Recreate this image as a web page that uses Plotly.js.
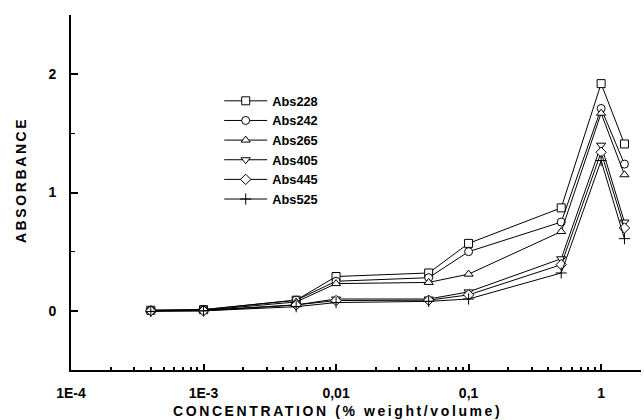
<!DOCTYPE html>
<html>
<head>
<meta charset="utf-8">
<script src="https://cdn.plot.ly/plotly-3.0.1.min.js"></script>
<style>
  html, body { margin: 0; padding: 0; background: #fff; }
  #chart { width: 644px; height: 420px; }
  .annotation-text { letter-spacing: 2.6px; }
</style>
</head>
<body>
<div id="chart"></div>
<script>
// Concentration (% weight/volume)
const concentration = [0.0004, 0.001, 0.005, 0.01, 0.05, 0.1, 0.5, 1, 1.5];

// Absorbance at each wavelength
const abs228 = [0.005, 0.01, 0.09, 0.29, 0.32, 0.57, 0.87, 1.92, 1.41];
const abs242 = [0.005, 0.01, 0.09, 0.25, 0.28, 0.50, 0.75, 1.71, 1.24];
const abs265 = [0.003, 0.005, 0.075, 0.23, 0.24, 0.31, 0.67, 1.67, 1.15];
const abs405 = [0.0, 0.005, 0.05, 0.10, 0.10, 0.16, 0.44, 1.40, 0.75];
const abs445 = [0.0, 0.0, 0.05, 0.087, 0.09, 0.135, 0.39, 1.34, 0.70];
const abs525 = [-0.005, 0.0, 0.035, 0.07, 0.08, 0.10, 0.32, 1.27, 0.61];

const seriesNames = ['Abs228', 'Abs242', 'Abs265', 'Abs405', 'Abs445', 'Abs525'];
const seriesValues = [abs228, abs242, abs265, abs405, abs445, abs525];
const seriesSymbols = ['square', 'circle', 'triangle-up', 'triangle-down', 'diamond', 'cross-thin'];

// Axis ticks
const xTickVals = [1e-4, 1e-3, 0.01, 0.1, 1];
const xTickText = ['1E-4', '1E-3', '0,01', '0,1', '1'];
const yTickVals = [0, 1, 2];
const yTickText = ['0', '1', '2'];

const xMinorVals = [];
for (let e = -4; e <= 0; e++) {
  for (let m = 2; m <= 9; m++) xMinorVals.push(m * Math.pow(10, e));
}

const traces = seriesNames.map((name, i) => ({
  type: 'scatter',
  mode: 'lines+markers',
  name: name,
  x: concentration,
  y: seriesValues[i],
  line: { color: '#000', width: 1 },
  marker: {
    symbol: seriesSymbols[i],
    size: 8,
    color: seriesSymbols[i] === 'cross-thin' ? '#000' : '#fff',
    line: { color: '#000', width: 1 }
  }
}));

const font = { family: '"Liberation Sans", Arial, sans-serif', color: '#000' };

const layout = {
  width: 644,
  height: 420,
  margin: { l: 71, r: 3, t: 15, b: 50 },
  paper_bgcolor: '#fff',
  plot_bgcolor: '#fff',
  showlegend: true,
  legend: {
    x: 0.260, y: 0.80, xanchor: 'left', yanchor: 'top',
    bgcolor: 'rgba(0,0,0,0)',
    itemwidth: 43,
    font: Object.assign({ size: 12.8, weight: 'bold' }, font),
    tracegroupgap: 0
  },
  xaxis: {
    type: 'log',
    range: [-4, Math.log10(2)],
    showgrid: false,
    zeroline: false,
    showline: true,
    linecolor: '#000',
    linewidth: 2,
    mirror: false,
    ticks: 'inside',
    ticklen: 6,
    tickwidth: 2,
    tickcolor: '#000',
    tickmode: 'array',
    tickvals: xTickVals,
    ticktext: xTickText,
    ticklabelstandoff: 9,
    tickfont: Object.assign({ size: 14, weight: 'bold' }, font),
    minor: {
      tickmode: 'array',
      tickvals: xMinorVals,
      ticks: 'inside',
      ticklen: 3,
      tickwidth: 2,
      tickcolor: '#000',
      showgrid: false
    }
  },
  yaxis: {
    range: [-0.5, 2.5],
    showgrid: false,
    zeroline: false,
    showline: true,
    linecolor: '#000',
    linewidth: 2,
    ticks: 'inside',
    ticklen: 7,
    tickwidth: 2,
    tickcolor: '#000',
    tickmode: 'array',
    tickvals: yTickVals,
    ticktext: yTickText,
    ticklabelstandoff: 10,
    tickfont: Object.assign({ size: 14, weight: 'bold' }, font),
    minor: {
      tick0: 0,
      dtick: 0.5,
      ticks: 'inside',
      ticklen: 4,
      tickwidth: 1.5,
      tickcolor: '#000',
      showgrid: false
    }
  },
  annotations: [
    {
      text: 'CONCENTRATION (% weight/volume)',
      xref: 'paper', yref: 'paper',
      x: 0.468, y: -0.116,
      xanchor: 'center', yanchor: 'middle',
      showarrow: false,
      font: Object.assign({ size: 14, weight: 'bold' }, font)
    },
    {
      text: 'ABSORBANCE',
      xref: 'paper', yref: 'paper',
      x: -0.0877, y: 0.535,
      xanchor: 'center', yanchor: 'middle',
      textangle: -90,
      showarrow: false,
      font: Object.assign({ size: 14, weight: 'bold' }, font)
    }
  ]
};

Plotly.newPlot('chart', traces, layout, { staticPlot: true, displayModeBar: false });
</script>
</body>
</html>
